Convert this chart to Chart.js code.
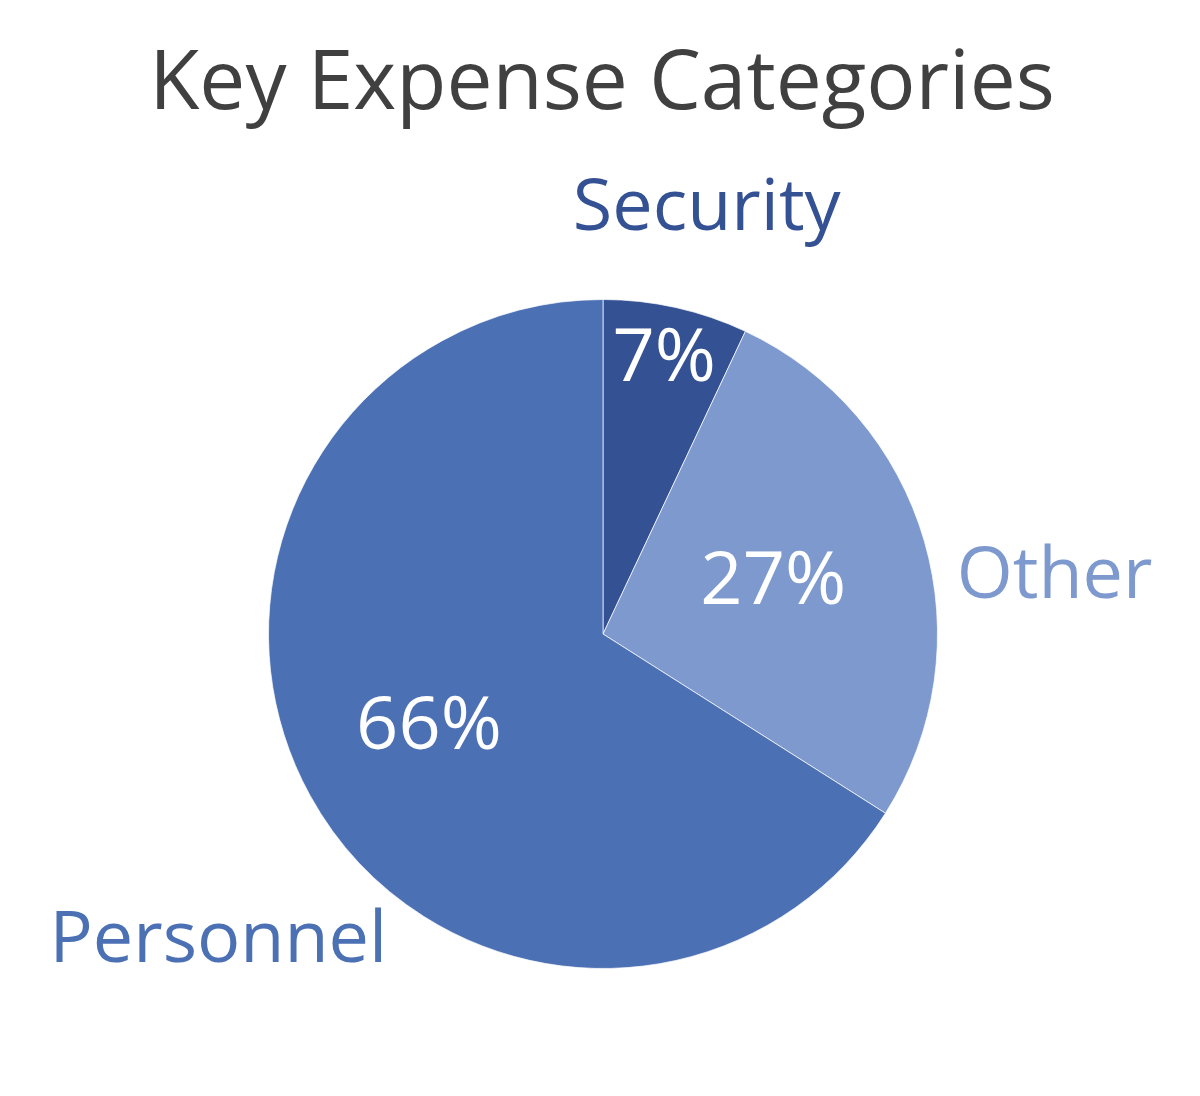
<!DOCTYPE html>
<html>
<head>
<meta charset="utf-8">
<script src="https://cdn.jsdelivr.net/npm/chart.js@4/dist/chart.umd.min.js"></script>
<style>
  html, body { margin: 0; padding: 0; background: #ffffff; }
  #wrap { width: 1200px; height: 1096px; }
</style>
</head>
<body>
<div id="wrap"><canvas id="expense-chart" width="1200" height="1096"></canvas></div>
<script>
// Chart data
const categories = ['Security', 'Other', 'Personnel'];
const shares = [7, 27, 66];
const sliceColors = ['#345194', '#7D99CE', '#4C70B4'];
const chartTitle = 'Key Expense Categories';

// Label placement, relative to the pie radius
const innerLabelFactor = [0.84, 0.53, 0.58];
const outerLabelOffset = [[0.31, -1.27], [1.35, -0.17], [-1.15, 0.92]];

const FONT = '"Open Sans", "Noto Sans", sans-serif';

// Draws the title, the percent labels inside and the category names outside
const sliceLabels = {
    id: 'sliceLabels',
    afterDatasetsDraw(chart) {
        const ctx = chart.ctx;
        const arcs = chart.getDatasetMeta(0).data;
        ctx.save();
        ctx.textAlign = 'center';
        ctx.textBaseline = 'middle';

        // title
        ctx.fillStyle = '#404040';
        ctx.font = '82px ' + FONT;
        ctx.fillText(chartTitle, chart.width / 2 + 2, 86);

        arcs.forEach(function(arc, i) {
            const p = arc.getProps(['x', 'y', 'startAngle', 'endAngle', 'outerRadius'], true);
            const mid = (p.startAngle + p.endAngle) / 2;
            const r = p.outerRadius;

            // percent inside
            const ir = r * innerLabelFactor[i];
            ctx.fillStyle = '#ffffff';
            ctx.font = '74px ' + FONT;
            ctx.fillText(shares[i] + '%', p.x + Math.cos(mid) * ir - (i === 2 ? 4 : 0), p.y + Math.sin(mid) * ir - (i === 1 ? 2 : 0));

            // category name outside
            ctx.fillStyle = sliceColors[i];
            ctx.font = '72px ' + FONT;
            ctx.fillText(categories[i], p.x + outerLabelOffset[i][0] * r, p.y + outerLabelOffset[i][1] * r);
        });
        ctx.restore();
    }
};

const chart = new Chart(document.getElementById('expense-chart'), {
    type: 'pie',
    data: {
        labels: categories,
        datasets: [{
            data: shares,
            backgroundColor: sliceColors,
            borderColor: 'rgba(255,255,255,0.7)',
            borderWidth: 1
        }]
    },
    options: {
        responsive: false,
        animation: false,
        layout: {
            padding: { top: 299, bottom: 127, left: 268, right: 262 }
        },
        plugins: {
            legend: { display: false },
            tooltip: { enabled: false },
            title: { display: false }
        }
    },
    plugins: [sliceLabels]
});
</script>
</body>
</html>
